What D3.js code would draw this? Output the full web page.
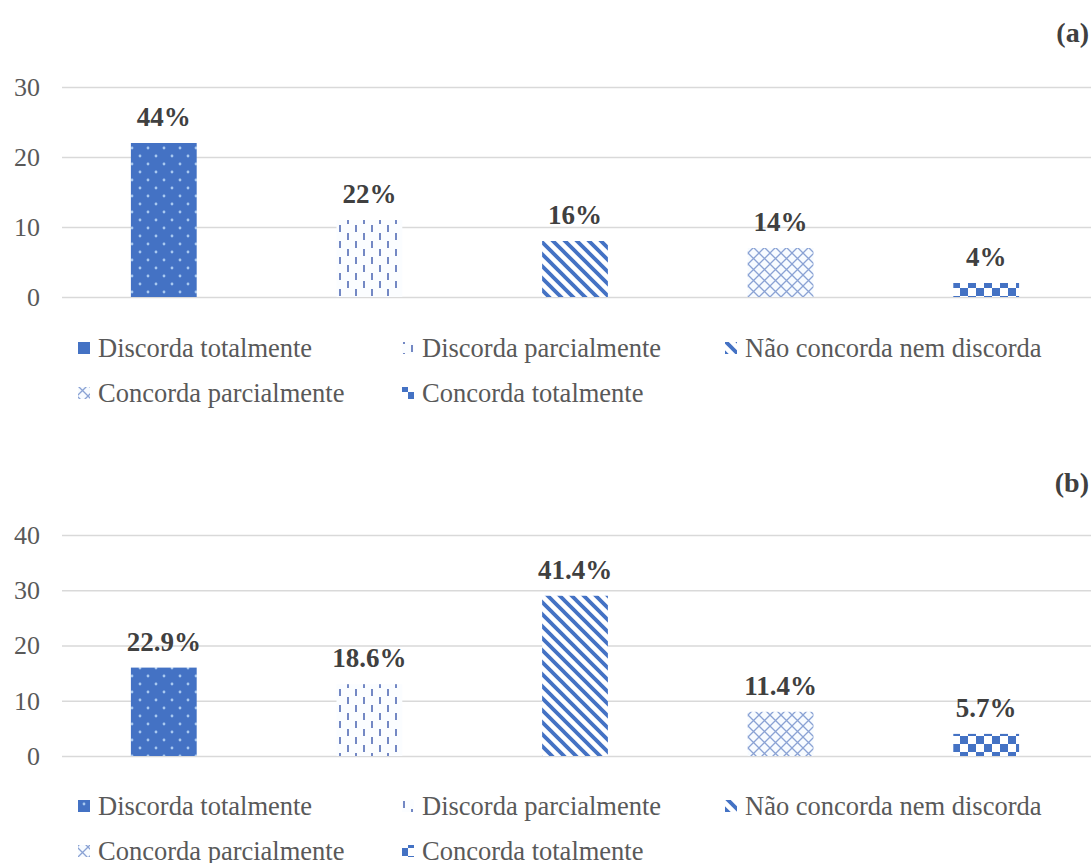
<!DOCTYPE html>
<html>
<head>
<meta charset="utf-8">
<script src="https://cdn.jsdelivr.net/npm/d3@7"></script>
<style>
  html, body { margin: 0; padding: 0; background: #fff; }
  svg { display: block; }
  text { font-family: "Liberation Serif", "Times New Roman", serif; }
</style>
</head>
<body>
<svg id="chart" width="1091" height="863"></svg>
<script>
// Response categories (shared by both panels)
const categories = [
  "Discorda totalmente",
  "Discorda parcialmente",
  "Não concorda nem discorda",
  "Concorda parcialmente",
  "Concorda totalmente"
];

// Panel (a): counts and percentage labels
const countsA = [22, 11, 8, 7, 2];
const labelsA = ["44%", "22%", "16%", "14%", "4%"];
const ticksA = [0, 10, 20, 30];

// Panel (b): counts and percentage labels
const countsB = [16, 13, 29, 8, 4];
const labelsB = ["22.9%", "18.6%", "41.4%", "11.4%", "5.7%"];
const ticksB = [0, 10, 20, 30, 40];

const svg = d3.select("#chart");
const BLUE = "#4472C4";
const defs = svg.append("defs");

// Fill patterns, one per category
function makePatterns(defs) {
  // dotted solid
  let p = defs.append("pattern").attr("id", "pat0").attr("patternUnits", "userSpaceOnUse")
    .attr("width", 16).attr("height", 16);
  p.append("rect").attr("width", 16).attr("height", 16).attr("fill", BLUE);
  p.append("circle").attr("cx", 4).attr("cy", 4).attr("r", 1.4).attr("fill", "#a8c8f0");
  p.append("circle").attr("cx", 12).attr("cy", 12).attr("r", 1.4).attr("fill", "#a8c8f0");

  // staggered vertical dashes
  p = defs.append("pattern").attr("id", "pat1").attr("patternUnits", "userSpaceOnUse")
    .attr("width", 16).attr("height", 16);
  p.append("rect").attr("width", 16).attr("height", 16).attr("fill", "#fbfdff");
  p.append("rect").attr("x", 3).attr("y", 1).attr("width", 2).attr("height", 7).attr("fill", "#7388c4");
  p.append("rect").attr("x", 11).attr("y", 9).attr("width", 2).attr("height", 7).attr("fill", "#7388c4");

  // wide downward diagonal stripes
  p = defs.append("pattern").attr("id", "pat2").attr("patternUnits", "userSpaceOnUse")
    .attr("width", 12).attr("height", 12);
  p.append("rect").attr("width", 12).attr("height", 12).attr("fill", "#fff");
  p.append("path").attr("d", "M-3,-3L15,15M-9,3L3,15M9,-3L21,9")
    .attr("stroke", BLUE).attr("stroke-width", 3.8).attr("fill", "none");

  // diagonal lattice
  p = defs.append("pattern").attr("id", "pat3").attr("patternUnits", "userSpaceOnUse")
    .attr("width", 11).attr("height", 11);
  p.append("rect").attr("width", 11).attr("height", 11).attr("fill", "#f7fbff");
  p.append("path").attr("d", "M0,0L11,11M11,0L0,11")
    .attr("stroke", "#8aa2d4").attr("stroke-width", 1.3).attr("fill", "none");

  // checkerboard
  p = defs.append("pattern").attr("id", "pat4").attr("patternUnits", "userSpaceOnUse")
    .attr("width", 16).attr("height", 16);
  p.append("rect").attr("width", 16).attr("height", 16).attr("fill", "#fff");
  p.append("rect").attr("width", 8).attr("height", 8).attr("fill", BLUE);
  p.append("rect").attr("x", 8).attr("y", 8).attr("width", 8).attr("height", 8).attr("fill", BLUE);
}
makePatterns(defs);

function drawPanel(cfg) {
  const g = svg.append("g");

  const x = d3.scaleBand()
    .domain(categories)
    .range([61, 1089])
    .paddingInner(0.68)
    .paddingOuter(0.34);

  const y = d3.scaleLinear()
    .domain([0, d3.max(cfg.ticks)])
    .range([cfg.bottom, cfg.top]);

  // gridlines + tick labels
  const axis = d3.axisLeft(y)
    .tickValues(cfg.ticks)
    .tickSize(-(1091 - 62))
    .tickPadding(22)
    .tickFormat(d3.format("d"));

  const ag = g.append("g").attr("transform", "translate(62,0)").call(axis);
  ag.select(".domain").remove();
  ag.selectAll(".tick line").attr("stroke", "#d9d9d9").attr("stroke-width", 1.5);
  ag.selectAll(".tick text")
    .attr("fill", "#595959")
    .attr("font-size", 26)
    .style("font-family", '"Liberation Serif", "Times New Roman", serif');

  // bars
  g.selectAll("rect.bar")
    .data(cfg.values)
    .join("rect")
    .attr("class", "bar")
    .attr("x", (d, i) => x(categories[i]))
    .attr("width", x.bandwidth())
    .attr("y", d => y(d))
    .attr("height", d => y(0) - y(d))
    .attr("fill", (d, i) => `url(#pat${i})`);

  // value labels
  g.selectAll("text.val")
    .data(cfg.values)
    .join("text")
    .attr("class", "val")
    .attr("x", (d, i) => x(categories[i]) + x.bandwidth() / 2)
    .attr("y", d => y(d) - 17)
    .attr("text-anchor", "middle")
    .attr("font-size", 27)
    .attr("font-weight", "bold")
    .attr("fill", "#404040")
    .text((d, i) => cfg.labels[i]);

  // panel letter
  g.append("text")
    .attr("x", 1089)
    .attr("y", cfg.letterY)
    .attr("text-anchor", "end")
    .attr("font-size", 28)
    .attr("font-weight", "bold")
    .attr("fill", "#404040")
    .text(cfg.letter);

  // legend
  const legendPos = [
    [78, 0], [402, 0], [725, 0],
    [78, 1], [402, 1]
  ];
  const lg = g.append("g");
  categories.forEach((c, i) => {
    const [lx, row] = legendPos[i];
    const ly = cfg.legendY + row * 45;
    lg.append("rect")
      .attr("x", lx).attr("y", ly - 6)
      .attr("width", 12).attr("height", 12)
      .attr("fill", `url(#pat${i})`);
    lg.append("text")
      .attr("x", lx + 20)
      .attr("y", ly)
      .attr("dy", "0.35em")
      .attr("font-size", 26.5)
      .attr("fill", "#595959")
      .text(c);
  });
}

drawPanel({
  values: countsA, labels: labelsA, ticks: ticksA,
  top: 87, bottom: 297, letter: "(a)", letterY: 42, legendY: 348
});
drawPanel({
  values: countsB, labels: labelsB, ticks: ticksB,
  top: 535, bottom: 756, letter: "(b)", letterY: 492, legendY: 806
});
</script>
</body>
</html>
